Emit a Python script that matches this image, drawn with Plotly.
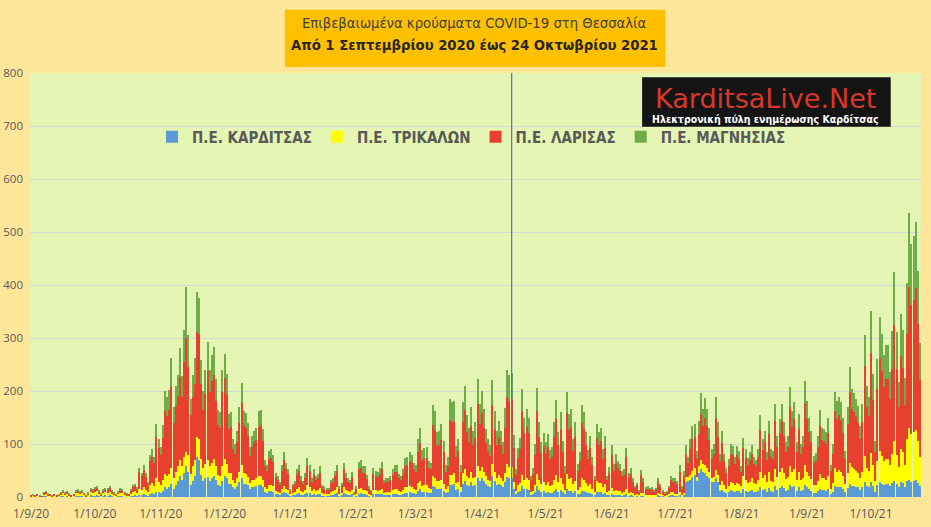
import pandas as pd
import plotly.graph_objects as go

# Daily confirmed COVID-19 cases per regional unit of Thessaly,
# 1 Sep 2020 - 24 Oct 2021
start_date = '2020-09-01'
end_date = '2021-10-24'
dates = pd.date_range(start_date, end_date, freq='D')

karditsa = [
    0, 1, 0, 1, 0, 0, 1, 2, 1, 0, 0, 1, 0, 1, 1, 2, 1, 2, 1, 0, 1, 2, 2, 1, 2, 1, 0, 1, 3, 2,  # Sep 20
    2, 3, 1, 1, 2, 3, 2, 3, 2, 1, 0, 1, 2, 2, 1, 1, 0, 1, 2, 3, 2, 4, 3, 5, 4, 2, 6, 8, 6, 10, 9,  # Oct 20
    8, 12, 18, 16, 18, 25, 15, 22, 30, 40, 32, 45, 58, 48, 22, 30, 40, 75, 70, 42, 30, 35, 38, 30, 35, 40, 32, 22, 20, 30,  # Nov 20
    40, 35, 25, 25, 18, 15, 20, 28, 35, 25, 25, 22, 15, 18, 18, 20, 22, 22, 18, 10, 8, 12, 12, 10, 6, 5, 4, 8, 10, 8, 6,  # Dec 20
    2, 3, 3, 6, 7, 4, 3, 5, 8, 7, 4, 6, 4, 5, 6, 2, 2, 2, 2, 4, 4, 5, 7, 2, 3, 7, 5, 4, 4, 5, 1,  # Jan 21
    2, 6, 7, 5, 5, 4, 2, 1, 5, 5, 5, 5, 6, 3, 4, 4, 4, 5, 6, 6, 4, 4, 5, 8, 8, 9, 8, 7,  # Feb 21
    6, 12, 15, 10, 10, 10, 8, 8, 20, 18, 15, 15, 16, 12, 8, 10, 22, 22, 25, 14, 15, 10, 25, 30, 22, 20, 28, 20, 22, 35, 30,  # Mar 21
    35, 30, 25, 20, 18, 40, 30, 22, 25, 22, 18, 28, 38, 35, 35, 15, 6, 10, 12, 20, 15, 16, 14, 4, 5, 10, 20, 14, 10, 12,  # Apr 21
    8, 10, 7, 8, 12, 15, 10, 13, 9, 5, 15, 12, 12, 8, 11, 5, 6, 12, 11, 9, 7, 8, 5, 3, 10, 9, 9, 6, 8, 3, 4,  # May 21
    5, 3, 4, 3, 3, 2, 3, 5, 2, 3, 2, 1, 1, 1, 2, 2, 1, 1, 1, 1, 1, 1, 3, 2, 2, 1, 1, 2, 4, 4,  # Jun 21
    2, 2, 3, 1, 3, 28, 30, 32, 38, 42, 30, 45, 52, 48, 45, 40, 35, 28, 28, 35, 28, 12, 14, 10, 8, 10, 14, 12, 10, 12, 11,  # Jul 21
    8, 15, 12, 10, 11, 13, 10, 9, 12, 18, 14, 15, 10, 17, 11, 10, 20, 14, 17, 20, 17, 12, 14, 22, 18, 20, 12, 18, 12, 14, 22,  # Aug 21
    18, 15, 12, 8, 8, 11, 16, 13, 13, 12, 15, 6, 10, 20, 18, 19, 18, 15, 9, 17, 25, 21, 20, 19, 18, 14, 18, 28, 20, 18,  # Sep 21
    28, 20, 10, 22, 28, 25, 22, 24, 24, 20, 26, 30, 25, 18, 28, 26, 18, 30, 32, 28, 30, 32, 26, 20,  # Oct 21
]

trikala = [
    1, 1, 1, 2, 1, 0, 4, 5, 2, 2, 1, 2, 1, 1, 4, 5, 3, 4, 2, 1, 1, 5, 6, 4, 5, 3, 1, 3, 7, 6,
    7, 8, 5, 2, 5, 6, 6, 7, 4, 3, 2, 4, 6, 5, 3, 2, 2, 5, 7, 8, 6, 12, 10, 13, 10, 7, 16, 18, 15, 25, 20,
    15, 20, 25, 24, 26, 30, 20, 26, 28, 30, 26, 30, 26, 32, 22, 28, 30, 38, 40, 30, 24, 28, 32, 28, 30, 32, 26, 20, 20, 28,
    32, 28, 20, 20, 14, 12, 15, 20, 25, 20, 18, 16, 12, 14, 15, 15, 18, 18, 15, 8, 8, 10, 10, 10, 6, 5, 4, 8, 10, 8, 7,
    3, 5, 6, 10, 12, 8, 6, 9, 14, 12, 7, 10, 8, 9, 11, 5, 4, 3, 3, 6, 7, 9, 12, 4, 5, 12, 9, 7, 6, 9, 2,
    4, 10, 10, 9, 9, 7, 3, 2, 8, 8, 7, 8, 10, 5, 6, 6, 6, 8, 9, 9, 7, 6, 8, 10, 10, 12, 11, 9,
    8, 14, 16, 11, 12, 12, 9, 8, 20, 18, 15, 15, 16, 13, 8, 10, 20, 20, 20, 12, 14, 8, 20, 22, 18, 15, 20, 15, 16, 24, 20,
    22, 18, 15, 12, 12, 22, 18, 14, 16, 14, 12, 18, 24, 22, 22, 14, 6, 12, 14, 22, 18, 20, 18, 5, 7, 12, 24, 18, 14, 16,
    15, 18, 14, 15, 20, 26, 18, 22, 16, 9, 28, 22, 24, 16, 20, 9, 12, 24, 22, 18, 13, 16, 11, 6, 20, 18, 18, 13, 16, 6, 8,
    12, 8, 10, 8, 8, 6, 6, 11, 6, 7, 5, 3, 4, 2, 6, 5, 3, 3, 2, 3, 2, 2, 5, 3, 2, 1, 2, 3, 6, 5,
    4, 3, 6, 2, 5, 10, 8, 10, 12, 12, 8, 14, 18, 15, 16, 15, 12, 8, 10, 16, 14, 10, 16, 12, 8, 10, 14, 14, 12, 15, 14,
    12, 24, 20, 16, 18, 22, 16, 15, 20, 30, 22, 26, 18, 30, 20, 18, 32, 24, 30, 34, 28, 22, 24, 36, 30, 32, 20, 30, 20, 22, 38,
    30, 25, 22, 14, 14, 20, 28, 22, 22, 20, 25, 10, 17, 34, 30, 32, 30, 25, 15, 28, 40, 35, 32, 30, 28, 22, 30, 50, 35, 32,
    55, 40, 20, 45, 58, 52, 45, 48, 48, 40, 55, 75, 55, 38, 62, 58, 42, 80, 98, 90, 92, 95, 80, 55,
]

larisa = [
    2, 1, 1, 2, 1, 1, 3, 3, 2, 2, 1, 2, 1, 1, 3, 4, 3, 4, 2, 2, 2, 4, 4, 4, 4, 2, 2, 3, 5, 5,
    7, 7, 5, 2, 5, 6, 6, 7, 5, 3, 2, 4, 7, 5, 4, 2, 3, 7, 10, 11, 8, 31, 26, 33, 24, 15, 46, 50, 43, 79, 63,
    56, 79, 119, 113, 120, 153, 105, 124, 132, 156, 130, 179, 216, 165, 111, 130, 144, 199, 198, 141, 110, 132, 167, 140, 154, 159, 124, 94, 90, 140,
    153, 130, 83, 87, 58, 55, 68, 92, 117, 90, 87, 77, 50, 63, 70, 72, 93, 95, 73, 40, 34, 50, 52, 46, 25, 23, 15, 34, 49, 37, 30,
    7, 12, 15, 26, 30, 19, 15, 22, 37, 30, 18, 26, 20, 21, 29, 12, 10, 9, 9, 16, 17, 25, 30, 10, 14, 33, 22, 17, 16, 24, 4,
    10, 37, 38, 32, 32, 23, 11, 7, 31, 26, 25, 31, 37, 18, 19, 19, 22, 29, 33, 33, 24, 22, 28, 41, 42, 46, 45, 36,
    34, 59, 70, 49, 51, 52, 37, 36, 95, 91, 67, 68, 76, 59, 32, 39, 103, 99, 97, 50, 57, 30, 97, 113, 83, 68, 86, 64, 73, 116, 88,
    101, 82, 61, 54, 48, 111, 80, 62, 73, 62, 51, 85, 127, 125, 127, 63, 30, 52, 64, 120, 87, 96, 88, 23, 32, 58, 119, 81, 59, 68,
    60, 67, 50, 53, 81, 106, 70, 93, 60, 32, 115, 92, 97, 63, 82, 36, 49, 103, 95, 71, 51, 68, 44, 23, 81, 71, 78, 53, 68, 23, 34,
    62, 39, 51, 43, 39, 31, 33, 59, 29, 34, 22, 13, 17, 8, 33, 22, 11, 12, 11, 11, 8, 11, 21, 14, 7, 4, 6, 12, 22, 20,
    22, 19, 39, 13, 31, 42, 26, 48, 60, 59, 34, 59, 86, 71, 89, 79, 60, 38, 44, 99, 71, 44, 71, 45, 29, 39, 54, 53, 40, 52, 46,
    28, 53, 42, 35, 40, 47, 36, 34, 42, 78, 53, 62, 41, 71, 44, 43, 91, 57, 74, 89, 71, 51, 57, 111, 85, 95, 53, 81, 50, 59, 118,
    100, 82, 69, 42, 46, 63, 90, 72, 70, 68, 81, 33, 55, 109, 100, 103, 98, 81, 47, 92, 134, 110, 108, 102, 93, 73, 94, 169, 115, 102,
    188, 123, 54, 136, 176, 161, 140, 150, 150, 124, 160, 219, 161, 113, 176, 160, 114, 198, 267, 244, 250, 267, 221, 146,
]

magnisia = [
    0, 1, 0, 0, 1, 0, 1, 1, 1, 0, 1, 0, 0, 1, 1, 2, 1, 1, 1, 0, 0, 1, 2, 1, 1, 1, 0, 1, 2, 2,
    2, 2, 1, 1, 2, 2, 2, 2, 1, 1, 1, 1, 2, 2, 1, 1, 0, 2, 3, 3, 2, 8, 6, 9, 7, 4, 12, 14, 11, 24, 18,
    16, 24, 38, 35, 38, 55, 30, 38, 40, 55, 40, 62, 97, 60, 30, 42, 48, 75, 68, 45, 36, 45, 55, 42, 48, 52, 40, 28, 30, 42,
    45, 40, 28, 28, 20, 18, 22, 30, 38, 28, 28, 25, 18, 20, 22, 23, 30, 30, 22, 12, 10, 15, 16, 14, 8, 7, 5, 10, 15, 12, 9,
    3, 5, 6, 10, 12, 8, 6, 9, 15, 12, 7, 11, 8, 9, 12, 4, 4, 3, 3, 7, 7, 10, 12, 4, 5, 13, 9, 7, 7, 9, 1,
    4, 13, 14, 12, 12, 8, 4, 2, 11, 10, 10, 11, 13, 7, 7, 7, 8, 11, 12, 12, 9, 8, 11, 15, 16, 18, 16, 13,
    12, 25, 30, 18, 20, 20, 14, 13, 38, 36, 26, 27, 30, 22, 12, 16, 40, 38, 40, 20, 24, 12, 38, 45, 32, 28, 35, 26, 30, 48, 38,
    42, 36, 28, 24, 20, 48, 35, 26, 30, 27, 22, 36, 50, 48, 50, 25, 10, 18, 22, 42, 30, 34, 30, 8, 11, 20, 42, 28, 20, 24,
    20, 24, 18, 19, 28, 36, 24, 32, 21, 12, 40, 31, 33, 22, 28, 12, 17, 34, 32, 24, 18, 23, 15, 8, 27, 24, 26, 18, 23, 8, 11,
    20, 12, 16, 14, 12, 10, 10, 18, 9, 11, 7, 4, 5, 3, 10, 7, 4, 4, 3, 4, 3, 3, 7, 5, 3, 2, 2, 4, 8, 7,
    8, 6, 12, 4, 10, 18, 12, 20, 24, 25, 15, 26, 40, 32, 36, 32, 24, 16, 18, 38, 28, 15, 24, 15, 10, 13, 18, 17, 13, 17, 16,
    10, 20, 16, 13, 15, 17, 13, 12, 16, 28, 20, 22, 15, 26, 16, 15, 32, 20, 26, 32, 25, 18, 20, 38, 30, 32, 18, 28, 18, 20, 40,
    34, 28, 22, 14, 15, 21, 30, 24, 24, 22, 28, 11, 18, 36, 34, 35, 33, 28, 16, 32, 46, 38, 36, 34, 32, 25, 33, 58, 40, 36,
    80, 50, 22, 58, 78, 70, 60, 64, 64, 52, 72, 100, 70, 48, 80, 72, 50, 95, 139, 115, 120, 125, 100, 70,
]

series_names = ['Π.Ε. ΚΑΡΔΙΤΣΑΣ', 'Π.Ε. ΤΡΙΚΑΛΩΝ', 'Π.Ε. ΛΑΡΙΣΑΣ', 'Π.Ε. ΜΑΓΝΗΣΙΑΣ']
series_colors = ['#5B9BD5', '#FFFF00', '#E8402E', '#70AD47']

tick_dates = ['2020-09-01', '2020-10-01', '2020-11-01', '2020-12-01', '2021-01-01',
              '2021-02-01', '2021-03-01', '2021-04-01', '2021-05-01', '2021-06-01',
              '2021-07-01', '2021-08-01', '2021-09-01', '2021-10-01']
tick_labels = ['1/9/20', '1/10/20', '1/11/20', '1/12/20', '1/1/21', '1/2/21', '1/3/21',
               '1/4/21', '1/5/21', '1/6/21', '1/7/21', '1/8/21', '1/9/21', '1/10/21']

marker_date = '2021-04-15'

title_line1 = 'Επιβεβαιωμένα κρούσματα COVID-19 στη Θεσσαλία'
title_line2 = 'Από 1 Σεπτεμβρίου 2020 έως 24 Οκτωβρίου 2021'

for s in (karditsa, trikala, larisa, magnisia):
    assert len(s) == len(dates), len(s)

fig = go.Figure()
for name, vals, col in zip(series_names, [karditsa, trikala, larisa, magnisia], series_colors):
    fig.add_trace(go.Bar(x=dates, y=vals, name=name, marker=dict(color=col, line=dict(width=0))))

narrow = 'DejaVu Sans Condensed'

fig.update_layout(
    width=931, height=527,
    barmode='stack', bargap=0.5,
    paper_bgcolor='#FFE699', plot_bgcolor='#E5F5B3',
    margin=dict(l=30, r=10, t=73, b=30),
    font=dict(family='Open Sans', size=11, color='#595959'),
    legend=dict(orientation='h', x=0.137, y=0.849, xanchor='left', yanchor='middle',
                bgcolor='rgba(0,0,0,0)', itemwidth=30,
                font=dict(family=narrow, size=15, color='#595959', weight='bold'),
                traceorder='normal'),
    xaxis=dict(type='date', range=['2020-08-31 12:00', '2021-10-24 12:00'],
               tickvals=tick_dates, ticktext=tick_labels, showgrid=False,
               showline=False, ticks='', tickfont=dict(size=12), automargin=False,
               ticklabelstandoff=8),
    yaxis=dict(range=[0, 800], dtick=100, showgrid=True, gridcolor='#D6D6D6',
               zeroline=False, showline=False, ticks='', tickfont=dict(size=11.5),
               automargin=False, ticklabelstandoff=6),
    showlegend=True,
)

# vertical reference line
fig.add_shape(type='line', xref='x', yref='paper', x0=marker_date, x1=marker_date,
              y0=0, y1=1, line=dict(color='#3F7DC2', width=1.2))

# title box
fig.add_shape(type='rect', xref='paper', yref='paper', x0=0.286, x1=0.713, y0=1.014, y1=1.149,
              fillcolor='#FFC000', line=dict(width=0), layer='above')
fig.add_annotation(xref='paper', yref='paper', x=0.4994, y=1.120, xanchor='center', yanchor='middle',
                   text=title_line1, showarrow=False,
                   font=dict(family=narrow, size=14.7, color='#404040'))
fig.add_annotation(xref='paper', yref='paper', x=0.4994, y=1.067, xanchor='center', yanchor='middle',
                   text='<b>' + title_line2 + '</b>', showarrow=False,
                   font=dict(family=narrow, size=14.7, color='#262626'))

# logo box
fig.add_shape(type='rect', xref='paper', yref='paper', x0=0.687, x1=0.966, y0=0.873, y1=0.990,
              fillcolor='#141414', line=dict(width=0), layer='above')
fig.add_annotation(xref='paper', yref='paper', x=0.826, y=0.940, xanchor='center', yanchor='middle',
                   text='KarditsaLive.Net', showarrow=False,
                   font=dict(family='DejaVu Sans', size=27, color='#D8382A'))
fig.add_annotation(xref='paper', yref='paper', x=0.826, y=0.892, xanchor='center', yanchor='middle',
                   text='<b>Ηλεκτρονική πύλη ενημέρωσης Καρδίτσας</b>', showarrow=False,
                   font=dict(family=narrow, size=10.5, color='#FFFFFF'))

# the page's default body margin would shift the 931x527 figure inside the window
fig.write_html('out.html', config={'displayModeBar': False},
               post_script="document.body.style.margin='0';")
